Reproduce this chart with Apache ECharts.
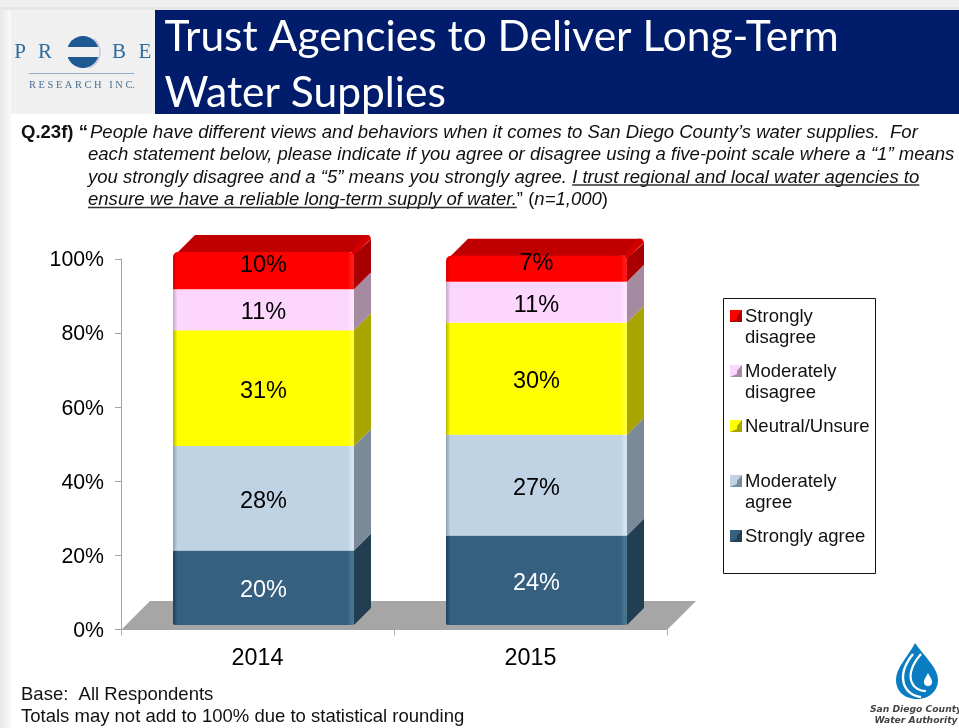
<!DOCTYPE html>
<html><head><meta charset="utf-8">
<style>html,body{margin:0;padding:0;background:#fff}#c{width:959px;height:728px}</style>
<script src="https://cdn.jsdelivr.net/npm/echarts@6/dist/echarts.min.js"></script>
</head><body><div id="c"></div>
<script>
const years = ['2014', '2015'];
const stronglyAgree = [20, 24];
const moderatelyAgree = [28, 27];
const neutralUnsure = [31, 30];
const moderatelyDisagree = [11, 11];
const stronglyDisagree = [10, 7];
const yTicks = [0, 20, 40, 60, 80, 100];
const titleLines = ['Trust Agencies to Deliver Long-Term', 'Water Supplies'];
const footerLines = ['Base:  All Respondents', 'Totals may not add to 100% due to statistical rounding'];
const seriesNames = ['Strongly agree', 'Moderately agree', 'Neutral/Unsure', 'Moderately disagree', 'Strongly disagree'];
const seriesValues = [stronglyAgree, moderatelyAgree, neutralUnsure, moderatelyDisagree, stronglyDisagree];
const legendLines = [['Strongly', 'disagree'], ['Moderately', 'disagree'], ['Neutral/Unsure'], ['Moderately', 'agree'], ['Strongly agree']];
const frontColors = ['#36607f', '#c0d3e4', '#ffff00', '#fdd6fd', '#ff0000'];
const sideColors = ['#223e52', '#7b8a98', '#a8a400', '#a58aa0', '#a80000'];
const edgeDark = ['#1f3e57', '#8ea0b2', '#b5b500', '#c4a8c4', '#d80000'];
const edgeLight = ['#47748f', '#d3e2f0', '#ffff30', '#ffe4ff', '#ff1818'];
const labelColors = ['#fff', '#000', '#000', '#000', '#000'];
const depth = 17;

const chart = echarts.init(document.getElementById('c'), null, {renderer: 'canvas'});
const SANS = '"Liberation Sans", Arial, sans-serif';
const ctx = document.createElement('canvas').getContext('2d');
function widthOf(t, font) { ctx.font = font; return ctx.measureText(t).width; }

const g = [];
function rect(x, y, w, h, fill, z) { g.push({type: 'rect', z: z || 1, silent: true, shape: {x, y, width: w, height: h}, style: {fill}}); }
function text(t, x, y, font, fill, align, z) {
  g.push({type: 'text', z: z || 3, silent: true, x, y, style: {text: t, font, fill: fill || '#000', textAlign: align || 'left', textVerticalAlign: 'middle'}});
}
function run(parts, x, y) {
  parts.forEach(p => {
    const w = widthOf(p.t, p.f);
    text(p.t, x, y, p.f, p.c || '#111');
    if (p.u) g.push({type: 'line', z: 3, silent: true, shape: {x1: x, y1: y + 7.5, x2: x + w, y2: y + 7.5}, style: {stroke: '#333', lineWidth: 1.3}});
    x += w;
  });
}
// samples a chain of cubic curves [x0,y0, c1x,c1y,c2x,c2y,x1,y1, ...] for the logo outlines
function curve(c) {
  const pts = [];
  for (let i = 0; i + 7 < c.length; i += 6) {
    for (let k = 0; k <= 14; k++) {
      const t = k / 14, u = 1 - t;
      pts.push([
        u*u*u*c[i] + 3*u*u*t*c[i+2] + 3*u*t*t*c[i+4] + t*t*t*c[i+6],
        u*u*u*c[i+1] + 3*u*u*t*c[i+3] + 3*u*t*t*c[i+5] + t*t*t*c[i+7]]);
    }
  }
  return pts;
}
function arcPts(cx, cy, r, a0, a1) {
  const pts = [];
  for (let k = 0; k <= 30; k++) { const a = (a0 + (a1 - a0) * k / 30) * Math.PI / 180; pts.push([cx + r * Math.cos(a), cy + r * Math.sin(a)]); }
  return pts;
}
// page furniture
rect(0, 0, 959, 7, '#efefef');
rect(0, 7, 959, 3, '#e6e6e6');
g.push({type: 'rect', z: 1, silent: true, shape: {x: 0, y: 10, width: 11, height: 718}, style: {fill: {type: 'linear', x: 0, y: 0, x2: 1, y2: 0, colorStops: [{offset: 0, color: '#e9e9e9'}, {offset: 1, color: '#f9f9f9'}]}}});
rect(11, 10, 144, 104, '#f0f0f0');
rect(155, 10, 804, 104, '#001c6b');
titleLines.forEach((t, i) => text(t, 164.5, 37 + i * 56, '42.5px Lato, sans-serif', '#fff'));
// Probe logo
const LOGO = '#2f6c9e';
[['P', 20], ['R', 45], ['B', 119], ['E', 145]].forEach(l => text(l[0], l[1], 52, '21px "Liberation Serif", serif', LOGO, 'center'));
g.push({type: 'polygon', z: 2, silent: true, shape: {points: arcPts(83, 52, 16, 198, 342)}, style: {fill: '#1d5a92'}});
g.push({type: 'polygon', z: 2, silent: true, shape: {points: arcPts(83, 52, 16, 18, 162)}, style: {fill: '#1d5a92'}});
g.push({type: 'polyline', z: 2, silent: true, shape: {points: arcPts(83, 52, 17, -50, 70)}, style: {stroke: '#c9c4e0', lineWidth: 1.5, fill: 'none'}});
rect(29, 73, 105, 1, '#8fb0cc');
text('R E S E A R C H   I N C.', 82, 85.5, '10.4px "Liberation Serif", serif', '#4a6f92', 'center');
// question
const FS = '18.55px ' + SANS;
const ITAL = 'italic ' + FS, BOLD = 'bold ' + FS, REG = FS;
text('Q.23f) “', 21, 133, BOLD, '#111');
run([{t: 'People have different views and behaviors when it comes to San Diego County’s water supplies.  For', f: ITAL}], 90, 133);
run([{t: 'each statement below, please indicate if you agree or disagree using a five-point scale where a “1” means', f: ITAL}], 88, 155);
run([{t: 'you strongly disagree and a “5” means you strongly agree. ', f: ITAL}, {t: 'I trust regional and local water agencies to', f: ITAL, u: 1}], 88, 177.5);
run([{t: 'ensure we have a reliable long-term supply of water.', f: ITAL, u: 1}, {t: '” (', f: REG}, {t: 'n=1,000', f: ITAL}, {t: ')', f: REG}], 88, 200);
// chart floor
g.push({type: 'polygon', z: 1, silent: true, shape: {points: [[121, 630], [150, 601], [696, 601], [667, 630]]}, style: {fill: '#a6a6a6'}});
// legend
g.push({type: 'rect', z: 1, silent: true, shape: {x: 723.5, y: 298.5, width: 152, height: 275}, style: {fill: '#fff', stroke: '#111', lineWidth: 1}});
const LEG = '18.5px ' + SANS;
legendLines.forEach((lines, i) => {
  const s = 4 - i, y = 316 + i * 55;
  rect(730, y - 6, 12, 12, sideColors[s], 2);
  g.push({type: 'polygon', z: 2, silent: true, shape: {points: [[730, y - 6], [742, y - 6], [737, y], [737, y + 3], [730, y + 6]]}, style: {fill: frontColors[s]}});
  lines.forEach((t, k) => text(t, 745, y + 1 + k * 21, LEG, '#111'));
});
// footer
footerLines.forEach((t, i) => text(t, 21, 695 + i * 22, '18.5px ' + SANS, '#111'));
// water authority logo
g.push({type: 'polygon', z: 2, silent: true, shape: {points: curve([915,643, 907,658,896,668,896,680, 896,692,905,699,917,699, 929,699,938,691,938,680, 938,668,924,656,915,643])}, style: {fill: '#0a7cc1'}});
g.push({type: 'polyline', z: 3, silent: true, shape: {points: curve([913,654, 905,664,901,674,904,684, 907,692,913,696,921,697])}, style: {stroke: '#fff', lineWidth: 2.4, fill: 'none'}});
g.push({type: 'polyline', z: 3, silent: true, shape: {points: curve([921,654, 914,662,909,672,911,680, 913,688,920,691,926,691])}, style: {stroke: '#fff', lineWidth: 2.2, fill: 'none'}});
g.push({type: 'polygon', z: 3, silent: true, shape: {points: curve([928,673, 926,677,924,679,924,682, 924,685,926,686,928,686, 930,686,932,685,932,682, 932,679,930,677,928,673])}, style: {fill: '#fff'}});
text('San Diego County', 916, 710, 'italic bold 9.2px "DejaVu Sans", sans-serif', '#444', 'center');
text('Water Authority', 916, 721, 'italic bold 9.2px "DejaVu Sans", sans-serif', '#444', 'center');

function makeRender(s) {
  return function (params, api) {
    const cat = api.value(0), y0 = api.value(1), y1 = api.value(2);
    const bw = api.size([1, 0])[0] * 0.663;
    const p0 = api.coord([cat, y0]), p1 = api.coord([cat, y1]);
    const xL = p0[0] - bw / 2, xR = p0[0] + bw / 2, yB = p0[1], yT = p1[1];
    const isTop = s === seriesValues.length - 1;
    const kids = [];
    if (isTop) {
      kids.push({type: 'polygon', shape: {points: [[xL, yT + 5], [xL + depth + 5, yT - depth], [xR + depth - 4, yT - depth], [xR + depth, yT - depth + 4], [xR, yT]]}, style: {fill: '#c00000'}});
      kids.push({type: 'polygon', shape: {points: [[xR - 3, yT + 1], [xR + depth - 6, yT - depth], [xR + depth - 2, yT - depth], [xR + depth, yT - depth + 3], [xR, yT + 4]]}, style: {fill: '#d40000'}});
    }
    kids.push({type: 'polygon', shape: {points: [[xR, isTop ? yT + 3 : yT], [xR + depth, isTop ? yT - depth + 4 : yT - depth], [xR + depth, yB - depth], [xR, yB]]}, style: {fill: sideColors[s]}});
    kids.push({type: 'rect', shape: {x: xL, y: yT, width: bw, height: yB - yT, r: isTop ? [5, 5, 0, 0] : (s === 0 ? [0, 0, 2, 2] : 0)},
      style: {fill: {type: 'linear', x: 0, y: 0, x2: 1, y2: 0, colorStops: [
        {offset: 0, color: edgeDark[s]}, {offset: 0.025, color: frontColors[s]},
        {offset: 0.965, color: frontColors[s]}, {offset: 0.985, color: edgeLight[s]}, {offset: 1, color: edgeLight[s]}]}}});
    const labelY = isTop ? (yT - depth + yB) / 2 + 3 : (yT + yB) / 2 + 3;
    kids.push({type: 'text', x: p0[0], y: labelY, style: {text: (y1 - y0) + '%', font: '23.5px ' + SANS, fill: labelColors[s], textAlign: 'center', textVerticalAlign: 'middle'}});
    return {type: 'group', children: kids};
  };
}

const series = seriesNames.map((name, s) => ({
  type: 'custom', name, xAxisIndex: 1, yAxisIndex: 1, z: 2 + s, clip: false,
  renderItem: makeRender(s),
  encode: {x: 0, y: [1, 2]},
  data: years.map((y, c) => {
    let base = 0;
    for (let k = 0; k < s; k++) base += seriesValues[k][c];
    return [c, base, base + seriesValues[s][c]];
  })
}));
// an empty series keeps the visible axis grid alive
series.push({type: 'bar', xAxisIndex: 0, yAxisIndex: 0, data: [], silent: true});

const AX = {lineStyle: {color: '#a3a3a3', width: 1}};
chart.setOption({
  animation: false,
  backgroundColor: '#fff',
  tooltip: {show: false},
  grid: [
    {left: 121, width: 546, top: 259, height: 370.5},
    {left: 127, width: 546, top: 252, height: 373}
  ],
  xAxis: [
    {type: 'category', gridIndex: 0, data: years, offset: 1, axisLine: {lineStyle: {color: '#c0c0c0'}}, axisTick: {show: true, length: 6, alignWithLabel: false, lineStyle: {color: '#b0b0b0'}}, axisLabel: {color: '#000', fontFamily: 'Liberation Sans', fontSize: 23.3, margin: 17}},
    {type: 'category', gridIndex: 1, data: years, show: false}
  ],
  yAxis: [
    {type: 'value', gridIndex: 0, min: yTicks[0], max: yTicks[yTicks.length - 1], interval: yTicks[1] - yTicks[0], axisLine: {show: true, ...AX}, axisTick: {show: true, length: 6, ...AX}, splitLine: {show: false}, axisLabel: {formatter: '{v|{value}%}', margin: 17, rich: {v: {color: '#000', fontFamily: 'Liberation Sans', fontSize: 21.3, padding: [3, 0, 0, 0]}}}},
    {type: 'value', gridIndex: 1, min: 0, max: 100, show: false, splitLine: {show: false}}
  ],
  graphic: {elements: g},
  series
});
</script></body></html>
